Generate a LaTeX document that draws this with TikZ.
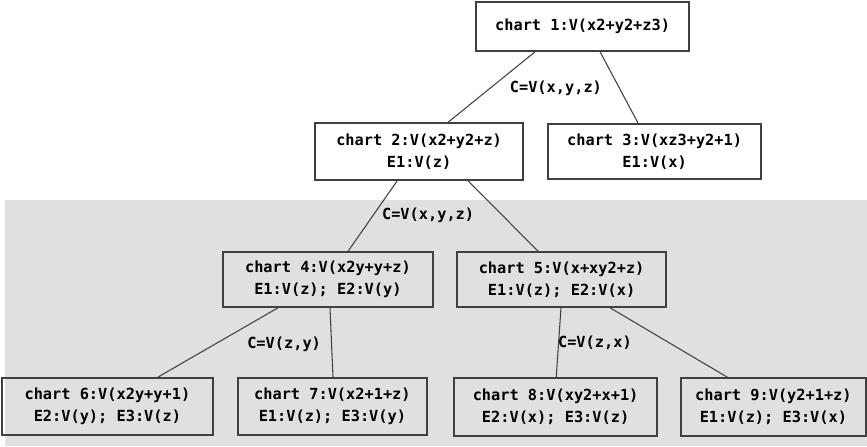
\documentclass[tikz,border=0pt]{standalone}
\usepackage{fontspec}
\setmonofont{DejaVu Sans Mono}
\usepackage{xcolor}

\tikzset{
  chartbox/.style={draw=black!75,line width=1.6pt,align=center,inner sep=0pt,
    font=\ttfamily\bfseries\fontsize{14.5}{20.9}\selectfont},
  condlabel/.style={inner sep=1pt,font=\ttfamily\bfseries\fontsize{14.5}{20.9}\selectfont},
  link/.style={draw=black!75,line width=1pt}
}

\begin{document}
\begin{tikzpicture}

\useasboundingbox (0,0) rectangle (28.9,-14.867);

% shaded lower part
\fill[black!12] (0.17,-6.67) rectangle (28.9,-14.867);


% level 1
\node[chartbox,minimum width=7.1cm,minimum height=1.63cm] (Chart1) at (19.42,-0.88) {chart 1:V(x2+y2+z3)};

% level 2
\node[chartbox,minimum width=6.93cm,minimum height=1.9cm] (Chart2) at (13.97,-5.05) {chart 2:V(x2+y2+z)\\E1:V(z)};
\node[chartbox,minimum width=7.1cm,minimum height=1.83cm] (Chart3) at (21.82,-5.05) {chart 3:V(xz3+y2+1)\\E1:V(x)};

% level 3
\node[chartbox,minimum width=7.0cm,minimum height=1.83cm] (Chart4) at (10.93,-9.32) {chart 4:V(x2y+y+z)\\E1:V(z); E2:V(y)};
\node[chartbox,minimum width=6.97cm,minimum height=1.83cm] (Chart5) at (18.72,-9.32) {chart 5:V(x+xy2+z)\\E1:V(z); E2:V(x)};

% level 4
\node[chartbox,minimum width=7.03cm,minimum height=1.9cm] (Chart6) at (3.58,-13.55) {chart 6:V(x2y+y+1)\\E2:V(y); E3:V(z)};
\node[chartbox,minimum width=6.3cm,minimum height=1.9cm] (Chart7) at (11.08,-13.55) {chart 7:V(x2+1+z)\\E1:V(z); E3:V(y)};
\node[chartbox,minimum width=6.77cm,minimum height=1.93cm] (Chart8) at (18.52,-13.57) {chart 8:V(xy2+x+1)\\E2:V(x); E3:V(z)};
\node[chartbox,minimum width=6.17cm,minimum height=1.93cm] (Chart9) at (25.78,-13.57) {chart 9:V(y2+1+z)\\E1:V(z); E3:V(x)};


\draw[link] ([xshift=-1.58cm]Chart1.south) -- ([xshift=0.97cm]Chart2.north);
\draw[link] ([xshift=0.58cm]Chart1.south) -- ([xshift=-0.55cm]Chart3.north);

\draw[link] ([xshift=-0.73cm]Chart2.south) -- ([xshift=0.67cm]Chart4.north);
\draw[link] ([xshift=1.63cm]Chart2.south) -- ([xshift=-0.78cm]Chart5.north);

\draw[link] ([xshift=-1.67cm]Chart4.south) -- ([xshift=1.68cm]Chart6.north);
\draw[link] ([xshift=0.07cm]Chart4.south) -- ([xshift=0.02cm]Chart7.north);

\draw[link] ([xshift=-0.02cm]Chart5.south) -- ([xshift=0.02cm]Chart8.north);
\draw[link] ([xshift=1.62cm]Chart5.south) -- ([xshift=-1.53cm]Chart9.north);


% split conditions
\node[condlabel] (CondA) at (18.53,-2.93) {C=V(x,y,z)};
\node[condlabel] (CondB) at (14.27,-7.17) {C=V(x,y,z)};
\node[condlabel] (CondC) at (9.47,-11.47) {C=V(z,y)};
\node[condlabel] (CondD) at (19.83,-11.43) {C=V(z,x)};

\end{tikzpicture}
\end{document}
